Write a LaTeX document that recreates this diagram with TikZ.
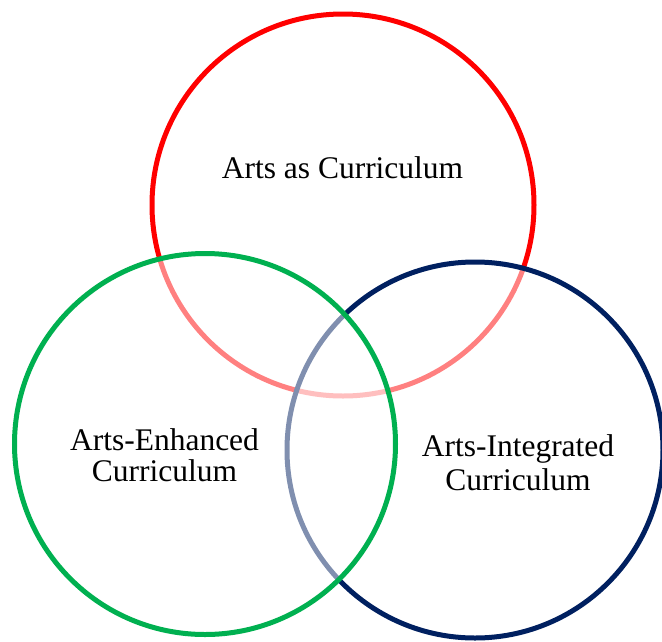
\documentclass[tikz,border=0pt]{standalone}
\usepackage{fontspec}
\setmainfont{Liberation Serif}
\definecolor{vred}{HTML}{FF0000}
\definecolor{vgreen}{HTML}{00B050}
\definecolor{vblue}{HTML}{002060}
\begin{document}
\begin{tikzpicture}[x=1pt,y=-1pt,
  ring/.style={line width=5pt},
  veil/.style={fill=white,fill opacity=0.5},
  lab/.style={font=\fontsize{31.5}{32}\selectfont,inner sep=0pt,align=center}]
\useasboundingbox (0,0) rectangle (662,641);
\path[ring,draw=vred] (343,205) circle[radius=191];
\path[ring,draw=vblue,veil] (475,450) circle[radius=188];
\path[ring,draw=vgreen,veil] (205,444) circle[radius=190.5];
\node[lab,anchor=base] (ac) at (342.5,178) {Arts as Curriculum};
\node[lab,font=\fontsize{31.5}{31.7}\selectfont] (ae) at (164.5,455.1) {Arts-Enhanced\\Curriculum};
\node[lab,font=\fontsize{31.5}{33.3}\selectfont] (ai) at (518,462.6) {Arts-Integrated\\Curriculum};
\end{tikzpicture}
\end{document}
